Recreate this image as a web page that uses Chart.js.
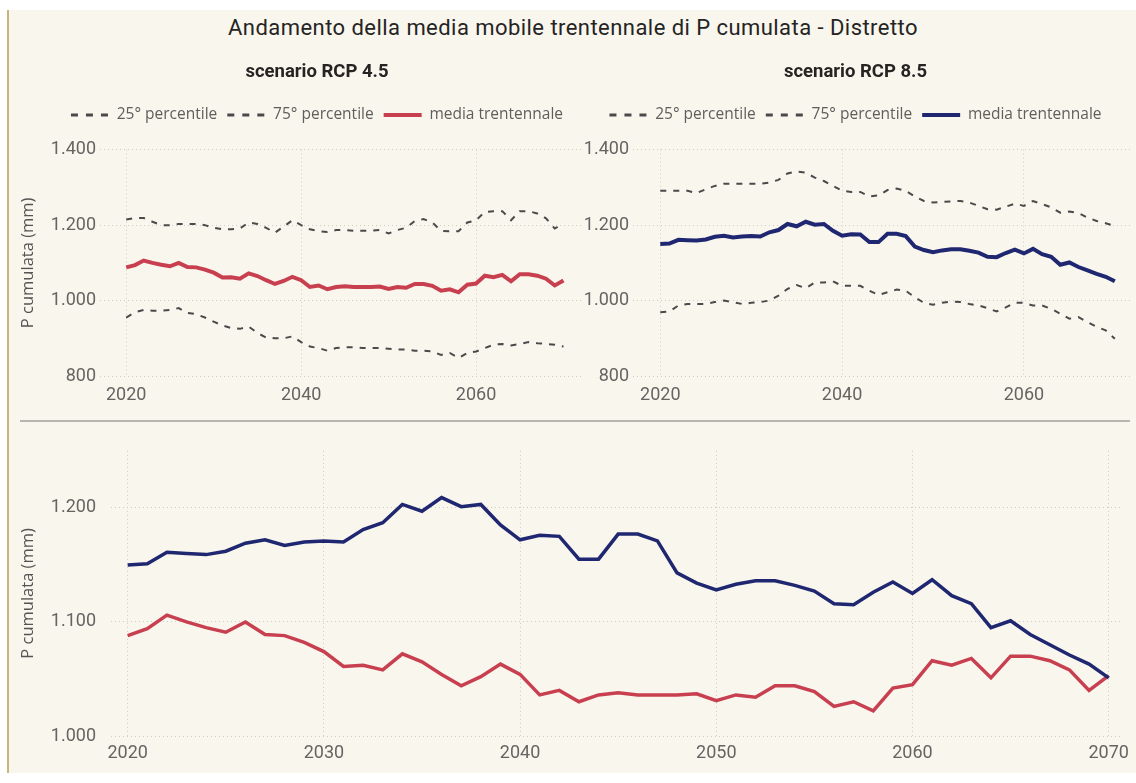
<!DOCTYPE html>
<html>
<head>
<meta charset="utf-8">
<script src="https://cdn.jsdelivr.net/npm/chart.js@4.4.1/dist/chart.umd.min.js"></script>
<style>
  body { margin: 0; background: #ffffff; }
  .panel {
    position: absolute; left: 7px; top: 10px; width: 1129px; height: 763px;
    background: #f9f6ee; border-left: 2px solid #c8b57a;
  }
  .mainTitle {
    position: absolute; left: 0; top: 15px; width: 1146px; text-align: center;
    font-family: Roboto, sans-serif; font-size: 22px; letter-spacing: 0.45px; color: #252423;
  }
  .separator {
    position: absolute; left: 20px; top: 420px; width: 1110px;
    border-top: 2px solid #b9b6af;
  }
  canvas { position: absolute; }
  #chart45 { left: 10px; top: 45px; }
  #chart85 { left: 575px; top: 45px; }
  #chartAll { left: 10px; top: 425px; }
</style>
</head>
<body>
<div class="panel"></div>
<div class="mainTitle">Andamento della media mobile trentennale di P cumulata - Distretto</div>
<div class="separator"></div>
<canvas id="chart45" width="614" height="365"></canvas>
<canvas id="chart85" width="561" height="365"></canvas>
<canvas id="chartAll" width="1126" height="350"></canvas>
<script>
// anni della media mobile
const years = [2020, 2021, 2022, 2023, 2024, 2025, 2026, 2027, 2028, 2029,
  2030, 2031, 2032, 2033, 2034, 2035, 2036, 2037, 2038, 2039,
  2040, 2041, 2042, 2043, 2044, 2045, 2046, 2047, 2048, 2049,
  2050, 2051, 2052, 2053, 2054, 2055, 2056, 2057, 2058, 2059,
  2060, 2061, 2062, 2063, 2064, 2065, 2066, 2067, 2068, 2069, 2070];

// RCP 4.5
const p25Rcp45 = [955, 969, 975, 973, 973, 975, 980, 967, 964, 955,
  944, 934, 927, 925, 931, 914, 902, 900, 900, 905,
  890, 878, 874, 867, 874, 876, 876, 874, 874, 874,
  872, 870, 870, 867, 867, 865, 856, 861, 848, 861,
  865, 874, 883, 885, 881, 885, 890, 887, 885, 883, 878];
const p75Rcp45 = [1215, 1219, 1219, 1209, 1200, 1200, 1203, 1203, 1203, 1200,
  1193, 1189, 1189, 1191, 1207, 1203, 1193, 1180, 1196, 1213,
  1200, 1189, 1184, 1182, 1187, 1187, 1185, 1185, 1185, 1187,
  1178, 1187, 1193, 1211, 1216, 1207, 1185, 1184, 1184, 1207,
  1213, 1235, 1237, 1237, 1213, 1237, 1237, 1231, 1218, 1191, 1204];
const mediaRcp45 = [1088, 1094, 1106, 1100, 1095, 1091, 1100, 1089, 1088, 1082,
  1074, 1061, 1062, 1058, 1072, 1065, 1054, 1044, 1052, 1063,
  1054, 1036, 1040, 1030, 1036, 1038, 1036, 1036, 1036, 1037,
  1031, 1036, 1034, 1044, 1044, 1039, 1026, 1030, 1022, 1042,
  1045, 1066, 1062, 1068, 1051, 1070, 1070, 1066, 1058, 1040, 1053];

// RCP 8.5
const p25Rcp85 = [969, 971, 987, 991, 991, 991, 996, 1000, 996, 991,
  994, 996, 1000, 1013, 1031, 1041, 1033, 1048, 1048, 1051,
  1039, 1039, 1039, 1026, 1015, 1022, 1029, 1026, 1009, 994,
  989, 994, 997, 996, 991, 987, 980, 971, 982, 994,
  994, 987, 987, 978, 965, 952, 956, 943, 930, 921, 899];
const p75Rcp85 = [1291, 1291, 1291, 1291, 1285, 1295, 1304, 1310, 1310, 1310,
  1310, 1310, 1313, 1320, 1337, 1342, 1339, 1326, 1317, 1304,
  1291, 1288, 1288, 1276, 1279, 1293, 1297, 1291, 1276, 1264,
  1260, 1262, 1263, 1264, 1260, 1251, 1242, 1241, 1249, 1257,
  1251, 1264, 1256, 1247, 1233, 1236, 1232, 1220, 1211, 1205, 1198];
const mediaRcp85 = [1150, 1151, 1161, 1160, 1159, 1162, 1169, 1172, 1167, 1170,
  1171, 1170, 1181, 1187, 1203, 1197, 1209, 1201, 1203, 1185,
  1172, 1176, 1175, 1155, 1155, 1177, 1177, 1171, 1143, 1134,
  1128, 1133, 1136, 1136, 1132, 1127, 1116, 1115, 1126, 1135,
  1125, 1137, 1123, 1116, 1095, 1101, 1089, 1080, 1071, 1063, 1051];

const topYearTicks = [2020, 2040, 2060];
const bottomYearTicks = [2020, 2030, 2040, 2050, 2060, 2070];
const topValueTicks = [800, 1000, 1200, 1400];
const bottomValueTicks = [1000, 1100, 1200];

const redColor = '#c8404f';
const blueColor = '#1f2770';
const dashColor = '#4a4a4a';
const tickColor = '#666462';

// numero con separatore delle migliaia all'italiana
function fmtIt(v) {
  if (v >= 1000) {
    return Math.floor(v / 1000) + '.' + String(v % 1000).padStart(3, '0');
  }
  return String(v);
}

// spazio sotto la legenda
const legendGap = {
  id: 'legendGap',
  beforeInit(chart) {
    const fitOrig = chart.legend.fit;
    chart.legend.fit = function fit() {
      fitOrig.bind(chart.legend)();
      this.height += 17;
    };
  }
};

// legenda con il tratteggio della linea (pointStyle usa lo stile del punto)
function legendLabels(chart) {
  return chart.data.datasets.map((ds, i) => ({
    text: ds.label,
    fillStyle: ds.borderColor,
    strokeStyle: ds.borderColor,
    lineWidth: ds.borderDash ? 3 : 4,
    lineDash: ds.borderDash ? [7, 8] : [],
    pointStyle: 'line',
    fontColor: '#605e5c',
    hidden: false,
    datasetIndex: i
  }));
}

function xScale(min, max, tickList, height, pad) {
  return {
    type: 'linear',
    min: min,
    max: max,
    afterBuildTicks: (s) => { s.ticks = tickList.map((v) => ({ value: v })); },
    afterFit: (s) => { s.height = height; },
    grid: { color: '#cfccc4', lineWidth: 1, drawTicks: false },
    border: { display: false, dash: [1, 3] },
    ticks: {
      color: tickColor, padding: pad, maxRotation: 0, autoSkip: false,
      font: { family: 'Roboto', size: 18 },
      callback: (v) => String(v)
    }
  };
}

function yScale(min, max, tickList, width, withTitle, pad) {
  return {
    min: min,
    max: max,
    afterBuildTicks: (s) => { s.ticks = tickList.map((v) => ({ value: v })); },
    afterFit: (s) => { s.width = width; },
    grid: { color: '#cfccc4', lineWidth: 1, drawTicks: false },
    border: { display: false, dash: [1, 3] },
    title: {
      display: withTitle, text: 'P cumulata (mm)', color: '#555452',
      font: { family: 'Open Sans', size: 16.5 }, padding: { top: 8, bottom: 4 }
    },
    ticks: {
      color: tickColor, padding: pad,
      font: { family: 'Roboto', size: 18 },
      callback: (v) => fmtIt(v)
    }
  };
}

// asse vuoto a destra, solo per lasciare spazio
function spacerScale(width) {
  return {
    position: 'right',
    afterFit: (s) => { s.width = width; },
    grid: { display: false },
    border: { display: false },
    ticks: { display: false }
  };
}

function scenarioChart(id, title, p25, p75, media, mediaColor, yWidth, withTitle, rightSpace) {
  const ctx = document.getElementById(id).getContext('2d');
  return new Chart(ctx, {
    type: 'line',
    data: {
      labels: years,
      datasets: [
        { label: '25° percentile', data: p25, borderColor: dashColor, backgroundColor: dashColor,
          borderWidth: 2, borderDash: [6, 7], pointRadius: 0, tension: 0 },
        { label: '75° percentile', data: p75, borderColor: dashColor, backgroundColor: dashColor,
          borderWidth: 2, borderDash: [6, 7], pointRadius: 0, tension: 0 },
        { label: 'media trentennale', data: media, borderColor: mediaColor, backgroundColor: mediaColor,
          borderWidth: 4, pointRadius: 0, tension: 0 }
      ]
    },
    options: {
      responsive: false,
      animation: false,
      plugins: {
        title: {
          display: true, text: title, color: '#252423',
          font: { family: 'Roboto', size: 18.5, weight: 'bold' },
          padding: { top: 16, bottom: 14 }
        },
        legend: {
          display: true,
          labels: {
            usePointStyle: true, pointStyle: 'line', pointStyleWidth: 38,
            color: '#605e5c', padding: 10,
            font: { family: 'Open Sans', size: 15.5 },
            generateLabels: legendLabels
          }
        },
        tooltip: { enabled: false }
      },
      scales: {
        x: xScale(2017, 2072, topYearTicks, 34, 9),
        y: yScale(800, 1400, topValueTicks, yWidth, withTitle, 4),
        yR: spacerScale(rightSpace)
      }
    },
    plugins: [legendGap]
  });
}

scenarioChart('chart45', 'scenario RCP 4.5', p25Rcp45, p75Rcp45, mediaRcp45, redColor, 90, true, 43);
scenarioChart('chart85', 'scenario RCP 8.5', p25Rcp85, p75Rcp85, mediaRcp85, blueColor, 58, false, 3);

new Chart(document.getElementById('chartAll').getContext('2d'), {
  type: 'line',
  data: {
    labels: years,
    datasets: [
      { label: 'RCP 8.5', data: mediaRcp85, borderColor: blueColor, borderWidth: 3.5,
        pointRadius: 0, tension: 0 },
      { label: 'RCP 4.5', data: mediaRcp45, borderColor: redColor, borderWidth: 3.5,
        pointRadius: 0, tension: 0 }
    ]
  },
  options: {
    responsive: false,
    animation: false,
    layout: { padding: { top: 18, right: 6, bottom: 0, left: 0 } },
    plugins: { legend: { display: false }, tooltip: { enabled: false } },
    scales: {
      x: xScale(2019.15, 2070.7, bottomYearTicks, 39, 7),
      y: yScale(1000, 1250, bottomValueTicks, 101, true, 15)
    }
  }
});
</script>
</body>
</html>
